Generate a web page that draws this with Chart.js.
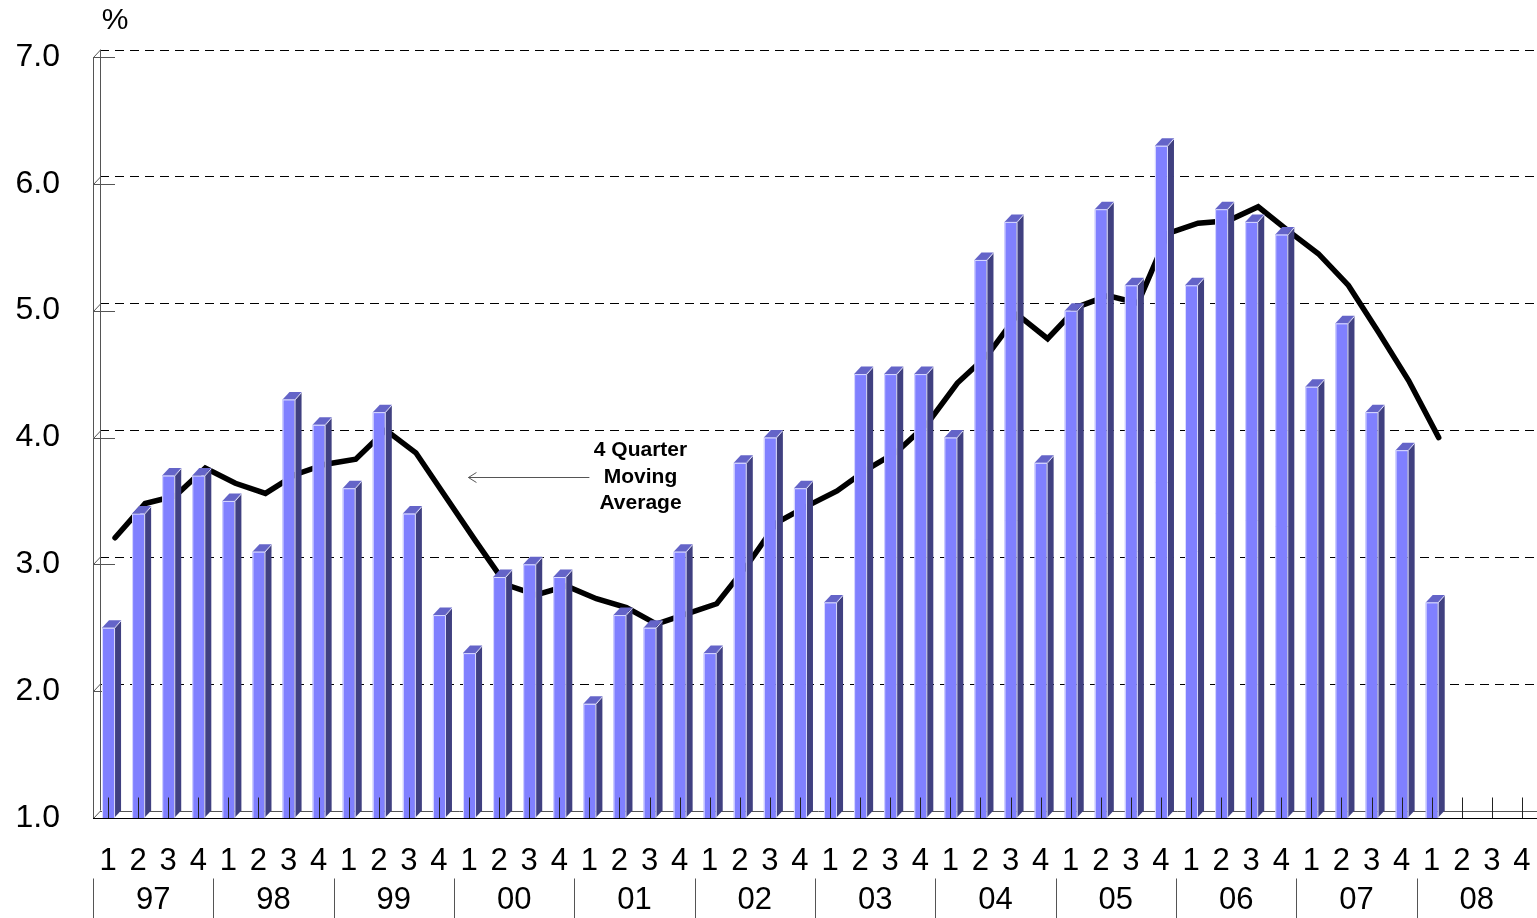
<!DOCTYPE html>
<html>
<head>
<meta charset="utf-8">
<script src="https://cdn.jsdelivr.net/npm/chart.js@4.4.0/dist/chart.umd.min.js"></script>
<style>
  html, body { margin: 0; padding: 0; background: #fff; overflow: hidden; }
</style>
</head>
<body>
<canvas id="myChart" width="1537" height="918"></canvas>
<script>
// year and quarter tick labels
const years = ['97', '98', '99', '00', '01', '02', '03', '04', '05', '06', '07', '08'];
const quarters = ['1', '2', '3', '4'];

// quarterly values, 1997 Q1 .. 2008 Q1
const quarterly = [
    2.5, 3.4, 3.7, 3.7,
    3.5, 3.1, 4.3, 4.1,
    3.6, 4.2, 3.4, 2.6,
    2.3, 2.9, 3.0, 2.9,
    1.9, 2.6, 2.5, 3.1,
    2.3, 3.8, 4.0, 3.6,
    2.7, 4.5, 4.5, 4.5,
    4.0, 5.4, 5.7, 3.8,
    5.0, 5.8, 5.2, 6.3,
    5.2, 5.8, 5.7, 5.6,
    4.4, 4.9, 4.2, 3.9,
    2.7
];

// 4 quarter moving average
const movingAvg = [
    3.15, 3.42, 3.48, 3.70,
    3.58, 3.50, 3.65, 3.73,
    3.77, 4.00, 3.82, 3.47,
    3.12, 2.78, 2.70, 2.77,
    2.67, 2.60, 2.47, 2.55,
    2.63, 2.93, 3.27, 3.40,
    3.52, 3.69, 3.83, 4.05,
    4.37, 4.59, 4.91, 4.72,
    4.97, 5.06, 5.00, 5.55,
    5.63, 5.65, 5.76, 5.57,
    5.39, 5.14, 4.77, 4.39,
    3.94
];

const yMin = 1, yMax = 7;

const labels = [];
years.forEach(() => quarters.forEach(q => labels.push(q)));

const FONT = 'Liberation Sans, Arial, Helvetica, sans-serif';
const DX = 7, DY = 7.5;   // depth of the fake 3d

const frame3d = {
    id: 'frame3d',
    beforeDatasetsDraw(chart) {
        const c = chart.ctx;
        const xs = chart.scales.x, ys = chart.scales.y;
        const left = xs.left, right = xs.right;
        c.save();
        c.lineWidth = 1;
        // dashed grid on the back wall
        c.strokeStyle = '#000';
        c.setLineDash([9, 6]);
        for (let v = yMin + 1; v <= yMax; v++) {
            const py = Math.round(ys.getPixelForValue(v) - DY) + 0.5;
            c.beginPath();
            c.moveTo(left + DX, py);
            c.lineTo(right, py);
            c.stroke();
        }
        c.setLineDash([]);
        // floor back line
        const fb = Math.round(ys.getPixelForValue(yMin) - DY) + 0.5;
        c.strokeStyle = '#555';
        c.beginPath();
        c.moveTo(left + DX, fb);
        c.lineTo(right, fb);
        c.stroke();
        // left wall
        const top = ys.getPixelForValue(yMax), bot = ys.getPixelForValue(yMin);
        c.beginPath();
        c.moveTo(left + 0.5, top);
        c.lineTo(left + 0.5, bot);
        c.moveTo(left + DX + 0.5, top - DY);
        c.lineTo(left + DX + 0.5, bot - DY);
        c.stroke();
        for (let v = yMin; v <= yMax; v++) {
            const py = Math.round(ys.getPixelForValue(v)) + 0.5;
            c.beginPath();
            c.moveTo(left + 0.5, py);
            c.lineTo(left + DX + 0.5, py - DY);
            if (v > yMin) {
                c.moveTo(left, py);
                c.lineTo(left + 22, py);
            }
            c.stroke();
        }
        c.restore();
    },
    beforeDatasetDraw(chart, args) {
        if (args.meta.type === 'line') {
            chart.ctx.save();
            chart.ctx.translate(DX, -DY);
        }
    },
    afterDatasetDraw(chart, args) {
        const c = chart.ctx;
        if (args.meta.type === 'line') {
            c.restore();
            return;
        }
        const floor = chart.scales.y.getPixelForValue(yMin);
        // side and top faces of the bars
        c.save();
        args.meta.data.forEach(bar => {
            if (bar.skip || isNaN(bar.y)) return;
            const p = bar.getProps(['x', 'y', 'width'], true);
            const base = floor;
            const l = p.x - p.width / 2, r = p.x + p.width / 2;
            c.fillStyle = '#404080';
            c.beginPath();
            c.moveTo(r, p.y);
            c.lineTo(r + DX, p.y - DY);
            c.lineTo(r + DX, base - DY);
            c.lineTo(r, base);
            c.closePath();
            c.fill();
            c.fillStyle = '#6464c8';
            c.beginPath();
            c.moveTo(l, p.y);
            c.lineTo(l + DX, p.y - DY);
            c.lineTo(r + DX, p.y - DY);
            c.lineTo(r, p.y);
            c.closePath();
            c.fill();
            c.strokeStyle = '#dcdcff';
            c.lineWidth = 1;
            c.beginPath();
            c.moveTo(l + 0.5, base);
            c.lineTo(l + 0.5, p.y + 0.5);
            c.lineTo(r + 0.5, p.y + 0.5);
            c.lineTo(r + 0.5, base);
            c.moveTo(r + 0.5, p.y + 0.5);
            c.lineTo(r + DX, p.y - DY + 0.5);
            c.stroke();
        });
        c.restore();
    },
    afterDatasetsDraw(chart) {
        const c = chart.ctx;
        const xs = chart.scales.x, ys = chart.scales.y;
        const bot = Math.round(ys.getPixelForValue(yMin)) + 0.5;
        c.save();
        c.lineWidth = 1;
        // small category ticks at the floor
        c.strokeStyle = '#222';
        labels.forEach((q, i) => {
            const px = Math.round(xs.getPixelForValue(i)) + 0.5;
            c.beginPath();
            c.moveTo(px, bot - 21);
            c.lineTo(px, bot);
            c.stroke();
        });
        // front floor edge
        c.strokeStyle = '#000';
        c.beginPath();
        c.moveTo(xs.left, bot);
        c.lineTo(xs.right, bot);
        c.stroke();
        // year separators
        c.strokeStyle = '#555';
        for (let k = 0; k <= years.length; k++) {
            const px = Math.round(xs.getPixelForValue(k * quarters.length - 0.5)) + 0.5;
            c.beginPath();
            c.moveTo(px, bot + 60);
            c.lineTo(px, chart.height);
            c.stroke();
        }
        // unit label
        c.fillStyle = '#000';
        c.font = '30px ' + FONT;
        c.textAlign = 'center';
        c.textBaseline = 'middle';
        c.fillText('%', xs.left + 22, 21);
        // moving average note
        const ax = xs.getPixelForValue(17.7);
        const ay = ys.getPixelForValue(3.69);
        c.font = 'bold 21px ' + FONT;
        c.fillText('4 Quarter', ax, ay - 27);
        c.fillText('Moving', ax, ay);
        c.fillText('Average', ax, ay + 26);
        const tipX = xs.getPixelForValue(11.98);
        const tailX = xs.getPixelForValue(16.0);
        const py = Math.round(ay) + 0.5;
        c.beginPath();
        c.moveTo(tailX, py);
        c.lineTo(tipX, py);
        c.moveTo(tipX + 8, py - 5);
        c.lineTo(tipX, py);
        c.lineTo(tipX + 8, py + 5);
        c.stroke();
        c.restore();
    }
};

const noSidePadding = scale => {
    scale.paddingLeft = 0;
    scale.paddingRight = 0;
};

const ctx = document.getElementById('myChart');
const chart = new Chart(ctx, {
    data: {
        labels: labels,
        datasets: [
            {
                type: 'bar',
                label: 'Quarterly',
                data: quarterly,
                backgroundColor: '#8080ff',
                borderWidth: 0,
                barPercentage: 0.4,
                categoryPercentage: 1.0,
                order: 0
            },
            {
                type: 'line',
                label: '4 Quarter Moving Average',
                data: movingAvg,
                borderColor: '#000',
                borderWidth: 5.5,
                borderCapStyle: 'round',
                borderJoinStyle: 'miter',
                pointRadius: 0,
                tension: 0,
                fill: false,
                order: 1
            }
        ]
    },
    options: {
        responsive: false,
        animation: false,
        events: [],
        layout: { padding: { top: 57, left: 0, right: 0, bottom: 0 } },
        plugins: {
            legend: { display: false },
            tooltip: { enabled: false },
            title: { display: false }
        },
        scales: {
            x: {
                type: 'category',
                position: 'bottom',
                weight: 0,
                offset: true,
                grid: { display: false },
                border: { display: false },
                ticks: {
                    autoSkip: false,
                    maxRotation: 0,
                    minRotation: 0,
                    color: '#000',
                    padding: 17,
                    font: { family: FONT, size: 31 }
                },
                afterFit(scale) {
                    scale.height = 56;
                    noSidePadding(scale);
                }
            },
            x2: {
                type: 'category',
                position: 'bottom',
                weight: 1,
                labels: years,
                offset: true,
                grid: { display: false },
                border: { display: false },
                ticks: {
                    autoSkip: false,
                    maxRotation: 0,
                    minRotation: 0,
                    color: '#000',
                    padding: 0,
                    font: { family: FONT, size: 31 }
                },
                afterFit(scale) {
                    scale.height = 44;
                    noSidePadding(scale);
                }
            },
            y: {
                min: yMin,
                max: yMax,
                grid: { display: false },
                border: { display: false },
                ticks: {
                    stepSize: 1,
                    color: '#000',
                    padding: 25,
                    font: { family: FONT, size: 32 },
                    callback: v => v.toFixed(1)
                },
                afterFit(scale) { scale.width = 93; }
            }
        }
    },
    plugins: [frame3d]
});
</script>
</body>
</html>
